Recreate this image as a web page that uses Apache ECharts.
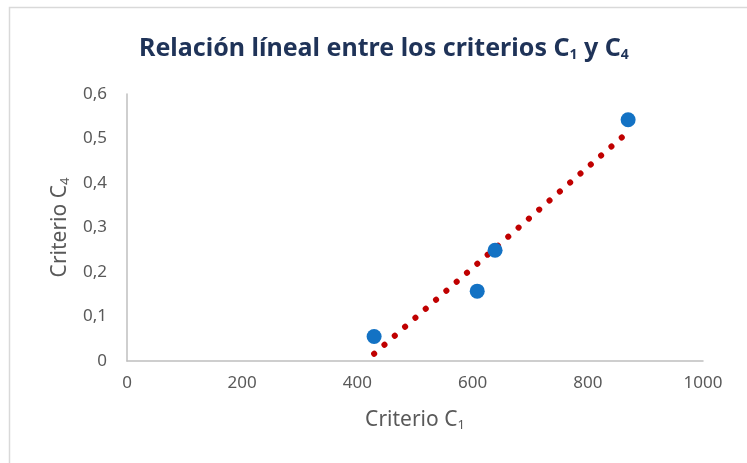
<!DOCTYPE html>
<html>
<head>
<meta charset="utf-8">
<script src="https://cdn.jsdelivr.net/npm/echarts@6/dist/echarts.min.js"></script>
<style>
html,body{margin:0;padding:0;background:#fff;}
#c{width:747px;height:463px;}
</style>
</head>
<body>
<div id="c"></div>
<script>
// Data
var criterioC1 = [429, 608, 639, 870];
var criterioC4 = [0.055, 0.157, 0.249, 0.542];
var xTicks = [0, 200, 400, 600, 800, 1000];
var yTicks = [0, 0.1, 0.2, 0.3, 0.4, 0.5, 0.6];

var points = criterioC1.map(function (x, i) { return [x, criterioC4[i]]; });

// Linear trendline (least squares), spanning min to max x, as Excel does
function linearFit(xs, ys) {
  var n = xs.length, mx = 0, my = 0;
  for (var i = 0; i < n; i++) { mx += xs[i]; my += ys[i]; }
  mx /= n; my /= n;
  var sxy = 0, sxx = 0;
  for (var j = 0; j < n; j++) { sxy += (xs[j] - mx) * (ys[j] - my); sxx += (xs[j] - mx) * (xs[j] - mx); }
  var b = sxy / sxx, a = my - b * mx;
  return function (x) { return a + b * x; };
}
var fit = linearFit(criterioC1, criterioC4);
var xMin = Math.min.apply(null, criterioC1), xMax = Math.max.apply(null, criterioC1);
var trend = [[xMin, fit(xMin)], [xMax, fit(xMax)]];

var chart = echarts.init(document.getElementById('c'), null, { renderer: 'canvas' });
var labelFont = '"Noto Sans", "DejaVu Sans", sans-serif';
var gray = '#595959';
var navy = '#1F3358';

chart.setOption({
  backgroundColor: '#fff',
  animation: false,
  graphic: [{
    type: 'rect',
    shape: { x: 9.5, y: 7.5, width: 800, height: 500 },
    style: { fill: 'none', stroke: '#D9D9D9', lineWidth: 1.5 },
    silent: true
  }],
  title: {
    text: '{m|Relación líneal entre los criterios C}{s|1}{m| y C}{s|4}',
    left: 134,
    top: 28,
    textStyle: {
      rich: {
        m: { fontFamily: labelFont, fontWeight: 'bold', fontSize: 25, color: navy, lineHeight: 32 },
        s: { fontFamily: labelFont, fontWeight: 'bold', fontSize: 14, color: navy, lineHeight: 32, padding: [13, 0, 0, 0] }
      }
    }
  },
  grid: { left: 127, right: 44, top: 94, bottom: 102, containLabel: false },
  xAxis: {
    type: 'value',
    min: 0, max: 1000, interval: 200,
    name: '{m|Criterio C}{s|1}',
    nameLocation: 'middle',
    nameGap: 47,
    nameTextStyle: {
      rich: {
        m: { fontFamily: labelFont, fontSize: 21, color: gray, lineHeight: 24 },
        s: { fontFamily: labelFont, fontSize: 13, color: gray, lineHeight: 24, padding: [10, 0, 0, 0] }
      }
    },
    axisLine: { show: true, lineStyle: { color: '#BFBFBF', width: 1.5 } },
    axisTick: { show: false },
    splitLine: { show: false },
    axisLabel: {
      color: gray, fontFamily: labelFont, fontSize: 17, margin: 14,
      formatter: function (v) { return xTicks.indexOf(v) >= 0 ? String(v) : ''; }
    }
  },
  yAxis: {
    type: 'value',
    min: 0, max: 0.6, interval: 0.1,
    name: '{m|Criterio C}{s|4}',
    nameLocation: 'middle',
    nameGap: 55,
    nameRotate: 90,
    nameTextStyle: {
      rich: {
        m: { fontFamily: labelFont, fontSize: 21, color: gray, lineHeight: 24 },
        s: { fontFamily: labelFont, fontSize: 13, color: gray, lineHeight: 24, padding: [10, 0, 0, 0] }
      }
    },
    axisLine: { show: true, lineStyle: { color: '#BFBFBF', width: 1.5 } },
    axisTick: { show: false },
    splitLine: { show: false },
    axisLabel: {
      color: gray, fontFamily: labelFont, fontSize: 17, margin: 20,
      formatter: function (v) {
        for (var i = 0; i < yTicks.length; i++) {
          if (Math.abs(yTicks[i] - v) < 1e-9) return v === 0 ? '0' : yTicks[i].toFixed(1).replace('.', ',');
        }
        return '';
      }
    }
  },
  series: [
    {
      type: 'line',
      data: trend,
      symbol: 'none',
      lineStyle: { color: '#C00000', width: 6, type: [0.1, 13.6], cap: 'round' },
      z: 2
    },
    {
      type: 'scatter',
      data: points,
      symbolSize: 15,
      itemStyle: { color: '#1372C4', opacity: 1 },
      z: 3
    }
  ]
});
</script>
</body>
</html>
